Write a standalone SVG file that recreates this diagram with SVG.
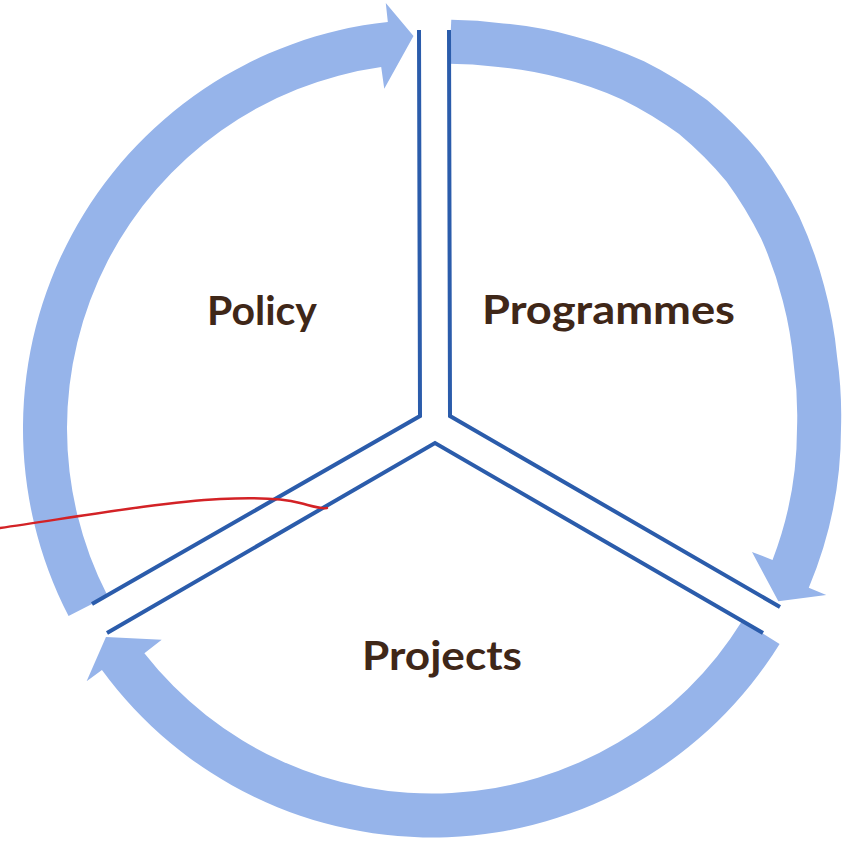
<svg xmlns="http://www.w3.org/2000/svg" width="853" height="844" viewBox="0 0 853 844">
<style>
.arrow{fill:#96b4ea;}
.gap{fill:none;stroke:#2b5cab;stroke-width:4;stroke-linejoin:miter;}
.lbl{font-family:Lato,"Open Sans","Liberation Sans",sans-serif;font-weight:bold;font-size:40px;fill:#3f2718;}
.pen{fill:none;stroke:#d32226;stroke-width:2.5;stroke-linecap:round;}
</style>
<rect width="853" height="844" fill="#ffffff"/>
<g id="policy">
<path class="arrow" d="M68.55,616.09 A409,409 0 0 1 387.83,21.89 L385.78,3 L413.5,36 L384.26,88.84 L381.2,67.05 A365,365 0 0 0 107.65,595.91 Z"/>
<text class="lbl" x="207" y="325" textLength="110" lengthAdjust="spacingAndGlyphs">Policy</text>
</g>
<g id="programmes">
<path class="arrow" d="M451.28,19.77 A410,410 0 0 1 503.43,23.41 A414,414 0 0 1 574.71,36.4 A421,421 0 0 1 644,61.3 A426,426 0 0 1 707.37,100.33 A428,428 0 0 1 760.17,153.13 A426,426 0 0 1 799.2,216.5 A421,421 0 0 1 824.1,285.79 A414,414 0 0 1 837.09,357.07 A410,410 0 0 1 841,428.5 A409,409 0 0 1 808.77,587.65 L826.27,595.04 L778.34,601.18 L752,551.98 L772.53,559.9 A365,365 0 0 0 797,428.5 A366,366 0 0 0 793.76,364.71 A370,370 0 0 0 782.75,300.84 A377,377 0 0 0 761.09,238.5 A382,382 0 0 0 726.47,181.41 A384,384 0 0 0 679.09,134.03 A382,382 0 0 0 622,99.41 A377,377 0 0 0 559.66,77.75 A370,370 0 0 0 495.79,66.74 A366,366 0 0 0 449.2,63.73 Z"/>
<text class="lbl" x="482" y="324" textLength="253" lengthAdjust="spacingAndGlyphs">Programmes</text>
</g>
<g id="projects">
<path class="arrow" d="M779.6,644.03 A409,409 0 0 1 101.95,670.06 L86.62,681.28 L105.97,637 L161.71,639.67 L144.38,653.22 A365,365 0 0 0 742.21,620.84 Z"/>
<text class="lbl" x="362" y="670" textLength="160" lengthAdjust="spacingAndGlyphs">Projects</text>
</g>
<g id="connectors">
<path class="gap" d="M419,30 L420,416 L92,604"/>
<path class="gap" d="M449,30 L450,416 L780,607"/>
<path class="gap" d="M107,633 L435,443 L763,633"/>
</g>
<path class="pen" d="M0,528 C70,518 160,502 220,499 C260,497 285,499 300,503 C312,506 320,509 327,508"/>
</svg>
